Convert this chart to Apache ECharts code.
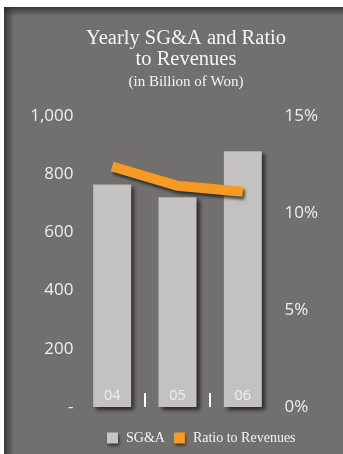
<!DOCTYPE html>
<html>
<head>
<meta charset="utf-8">
<script src="https://cdn.jsdelivr.net/npm/echarts@6/dist/echarts.min.js"></script>
<style>
  html, body { margin: 0; padding: 0; background: #ffffff; }
  #chart { width: 343px; height: 454px; }
</style>
</head>
<body>
<div id="chart"></div>
<script>
// Yearly SG&A (billion won) and its ratio to revenues (%)
const years = ['04', '05', '06'];
const sgaValues = [765, 721, 879];
const ratioValues = [12.4, 11.4, 11.1];
const leftTicks = [0, 200, 400, 600, 800, 1000];
const rightTicks = [0, 5, 10, 15];

// separators between the year columns sit on the column boundaries
const boundaries = Array.from({ length: years.length + 1 }, function (_, i) { return String(i); });

const panelColor = '#72706e';
const labelColor = '#eeeeee';
const sansFont = '"Open Sans", "Noto Sans", sans-serif';
const serifFont = '"Liberation Serif", "DejaVu Serif", serif';

const chart = echarts.init(document.getElementById('chart'), null, { renderer: 'canvas' });

chart.setOption({
  backgroundColor: '#ffffff',
  animation: false,
  graphic: [
    { type: 'rect', z: -10, shape: { x: 4, y: 7, width: 339, height: 447 }, style: { fill: panelColor } },
    {
      type: 'rect', z: -9, shape: { x: 4, y: 7, width: 10, height: 447 },
      style: { fill: new echarts.graphic.LinearGradient(0, 0, 1, 0, [
        { offset: 0, color: 'rgba(40,38,37,0.75)' },
        { offset: 1, color: 'rgba(40,38,37,0)' }
      ]) }
    },
    {
      type: 'rect', z: -9, shape: { x: 4, y: 7, width: 339, height: 9 },
      style: { fill: new echarts.graphic.LinearGradient(0, 0, 0, 1, [
        { offset: 0, color: 'rgba(40,38,37,0.75)' },
        { offset: 1, color: 'rgba(40,38,37,0)' }
      ]) }
    }
  ],
  title: {
    text: 'Yearly SG&A and Ratio\nto Revenues',
    subtext: '(in Billion of Won)',
    left: 181,
    textAlign: 'center',
    top: 23,
    itemGap: 5,
    textStyle: { color: '#f4f4f4', fontFamily: serifFont, fontSize: 20.5, fontWeight: 'normal', lineHeight: 21 },
    subtextStyle: { color: '#f4f4f4', fontFamily: serifFont, fontSize: 15 }
  },
  legend: {
    left: 102,
    top: 426,
    itemWidth: 11,
    itemHeight: 11,
    itemGap: 9,
    icon: 'rect',
    textStyle: { color: '#f4f4f4', fontFamily: serifFont, fontSize: 14, padding: [0, 0, 0, 3] },
    data: [
      { name: 'SG&A', itemStyle: { color: '#c8c6c5', shadowColor: 'rgba(0,0,0,0.6)', shadowBlur: 3, shadowOffsetX: 1, shadowOffsetY: 2 } },
      { name: 'Ratio to Revenues', itemStyle: { color: '#f59a23', shadowColor: 'rgba(0,0,0,0.6)', shadowBlur: 3, shadowOffsetX: 1, shadowOffsetY: 2 } }
    ]
  },
  grid: { left: 79.5, right: 67.5, top: 116, bottom: 47 },
  xAxis: [
    {
      type: 'category',
      data: years,
      z: 10,
      axisLine: { show: false },
      axisTick: { show: false },
      axisLabel: { inside: true, margin: 4, color: labelColor, fontFamily: sansFont, fontSize: 14.5 }
    },
    {
      type: 'category',
      data: boundaries,
      boundaryGap: false,
      position: 'bottom',
      z: 10,
      axisLine: { show: false },
      axisLabel: { show: false },
      axisTick: {
        show: true,
        inside: true,
        length: 14,
        interval: function (index) { return index > 0 && index < boundaries.length - 1; },
        lineStyle: { color: '#ffffff', width: 2 }
      }
    }
  ],
  yAxis: [
    {
      type: 'value',
      min: leftTicks[0],
      max: leftTicks[leftTicks.length - 1],
      interval: leftTicks[1] - leftTicks[0],
      splitLine: { show: false },
      axisLine: { show: false },
      axisTick: { show: false },
      axisLabel: {
        margin: 6,
        color: labelColor,
        fontFamily: sansFont,
        fontSize: 17,
        formatter: function (v) { return v === 0 ? '-' : v.toLocaleString('en-US'); }
      }
    },
    {
      type: 'value',
      min: rightTicks[0],
      max: rightTicks[rightTicks.length - 1],
      interval: rightTicks[1] - rightTicks[0],
      splitLine: { show: false },
      axisLine: { show: false },
      axisTick: { show: false },
      axisLabel: { margin: 9, color: labelColor, fontFamily: sansFont, fontSize: 17, formatter: '{value}%' }
    }
  ],
  series: [
    {
      name: 'SG&A',
      type: 'bar',
      xAxisIndex: 0,
      yAxisIndex: 0,
      barWidth: 38,
      data: sgaValues,
      itemStyle: {
        color: '#c4c2c1',
        shadowColor: 'rgba(20,18,18,0.75)',
        shadowBlur: 4,
        shadowOffsetX: 3,
        shadowOffsetY: 3
      }
    },
    {
      name: 'Ratio to Revenues',
      type: 'line',
      xAxisIndex: 0,
      yAxisIndex: 1,
      data: ratioValues,
      symbol: 'none',
      z: 5,
      lineStyle: {
        color: '#f59a23',
        width: 10,
        cap: 'butt',
        join: 'miter',
        shadowColor: 'rgba(20,18,18,0.7)',
        shadowBlur: 3,
        shadowOffsetX: 2,
        shadowOffsetY: 3
      },
      itemStyle: { color: '#f59a23' }
    }
  ]
});
</script>
</body>
</html>
